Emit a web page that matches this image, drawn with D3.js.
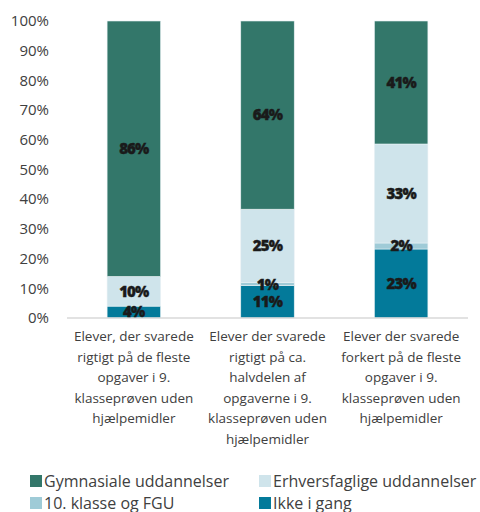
<!DOCTYPE html>
<html><head><meta charset="utf-8">
<script src="https://cdn.jsdelivr.net/npm/d3@7"></script>
<style>body{margin:0;background:#fff}svg{display:block}</style>
</head><body>
<svg id="c" width="480" height="512"></svg>
<script>
const categories = [
  ["Elever, der svarede","rigtigt på de fleste","opgaver i 9.","klasseprøven uden","hjælpemidler"],
  ["Elever der svarede","rigtigt på ca.","halvdelen af","opgaverne i 9.","klasseprøven uden","hjælpemidler"],
  ["Elever der svarede","forkert på de fleste","opgaver i 9.","klasseprøven uden","hjælpemidler"]
];
const seriesNames = ["Ikke i gang","10. klasse og FGU","Erhversfaglige uddannelser","Gymnasiale uddannelser"];
const ikkeIGang = [4, 11, 23];
const tiendeKlasse = [0, 1, 2];
const erhverv = [10, 25, 33];
const gymnasiale = [86, 64, 41];
const yTicks = [0,0.1,0.2,0.3,0.4,0.5,0.6,0.7,0.8,0.9,1];
const colors = ["#037a9a","#9fcbd7","#cfe4eb","#33776a"];
const legendOrder = [3,2,1,0];

const svg = d3.select("#c");
const m = {l:67, r:12, t:21, b:194};
const W = 480, H = 512;
const x = d3.scaleBand().domain(d3.range(categories.length)).range([m.l, W-m.r]).paddingInner(0.6).paddingOuter(0.3);
const y = d3.scaleLinear().domain([0,1]).range([H-m.b, m.t]);

const rows = categories.map((c,i)=>({i, s0:ikkeIGang[i], s1:tiendeKlasse[i], s2:erhverv[i], s3:gymnasiale[i]}));
const stack = d3.stack().keys(["s0","s1","s2","s3"]).offset(d3.stackOffsetExpand);
const series = stack(rows);
const raw = [ikkeIGang, tiendeKlasse, erhverv, gymnasiale];

const font = "Open Sans, sans-serif";

// y axis labels
svg.append("g").selectAll("text").data(yTicks).join("text")
  .attr("x", 49).attr("y", d=>y(d)).attr("dy","0.35em")
  .attr("text-anchor","end").attr("font-family",font).attr("font-size",15)
  .attr("fill","#404040").text(d=>d3.format(".0%")(d));

// bars
series.forEach((s,k)=>{
  svg.append("g").selectAll("rect").data(s).join("rect")
    .attr("x", d=>x(d.data.i)).attr("width", x.bandwidth())
    .attr("y", d=>y(d[1])).attr("height", d=>Math.max(0,y(d[0])-y(d[1])))
    .attr("fill", colors[k]).attr("stroke","#e8f1f3").attr("stroke-width",0.6);
});

// axis line
svg.append("line").attr("x1",m.l).attr("x2",W-m.r).attr("y1",y(0)).attr("y2",y(0))
  .attr("stroke","#d9d9d9").attr("stroke-width",1.5);

// value labels
series.forEach((s,k)=>{
  svg.append("g").selectAll("text").data(s.filter(d=>raw[k][d.data.i]>0)).join("text")
    .attr("x", d=>x(d.data.i)+x.bandwidth()/2)
    .attr("y", d=>(y(d[0])+y(d[1]))/2).attr("dy","0.36em")
    .attr("text-anchor","middle").attr("font-family",font).attr("font-weight",800)
    .attr("font-size",15).attr("letter-spacing","-0.8px").attr("fill","#1a1a1a")
    .attr("stroke","#1a1a1a").attr("stroke-width",0.4)
    .text(d=>raw[k][d.data.i]+"%");
});

// category labels
categories.forEach((lines,i)=>{
  const t = svg.append("text").attr("text-anchor","middle").attr("font-family",font)
    .attr("font-size",13.5).attr("fill","#404040");
  lines.forEach((l,j)=>{
    t.append("tspan").attr("x", x(i)+x.bandwidth()/2).attr("y", 341+j*20.5).text(l);
  });
});

// legend
const lg = svg.append("g");
legendOrder.forEach((k,j)=>{
  const col = j%2, row = Math.floor(j/2);
  const lx = col===0 ? 30 : 259, ly = 481 + row*22;
  lg.append("rect").attr("x",lx).attr("y",ly-6).attr("width",12).attr("height",12).attr("fill",colors[k]);
  lg.append("text").attr("x",lx+14).attr("y",ly).attr("dy","0.35em")
    .attr("font-family",font).attr("font-size",16).attr("fill","#404040").text(seriesNames[k]);
});
</script>
</body></html>
